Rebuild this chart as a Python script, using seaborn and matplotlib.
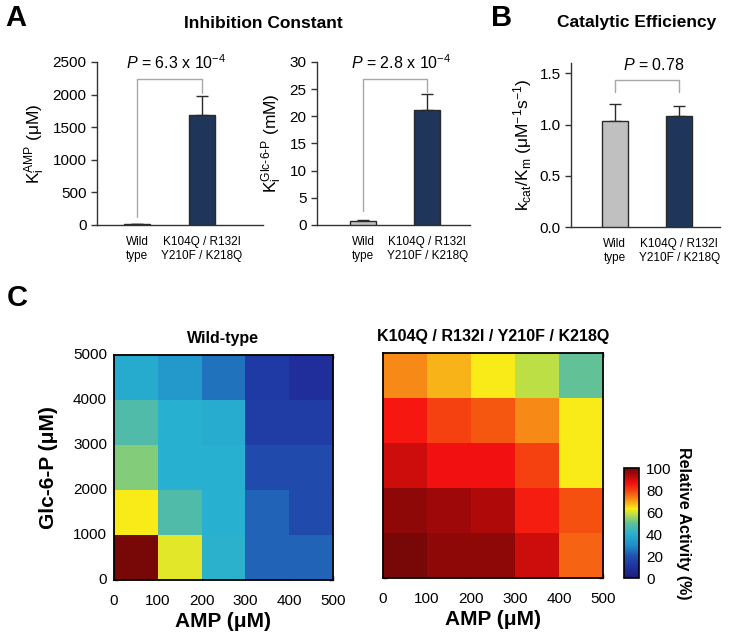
import numpy as np
import pandas as pd
import matplotlib
matplotlib.use('Agg')
import matplotlib.pyplot as plt
import seaborn as sns
from matplotlib.colors import LinearSegmentedColormap

# ---------------- data ----------------
groups = ['Wild\ntype', 'K104Q / R132I\nY210F / K218Q']
ki_amp = [10, 1690]
ki_amp_err = [5, 295]
ki_g6p = [0.8, 21.2]
ki_g6p_err = [0.15, 2.9]
kcat_km = [1.03, 1.08]
kcat_km_err = [0.17, 0.10]
p_values = ['6.3 x 10$^{\\mathregular{-4}}$', '2.8 x 10$^{\\mathregular{-4}}$', '0.78']

amp_ticks = [0, 100, 200, 300, 400, 500]
glc_ticks = [0, 1000, 2000, 3000, 4000, 5000]
# rows: Glc-6-P 0-1000 (bottom) ... 4000-5000 (top); columns: AMP 0-100 ... 400-500
wt_activity = [
    [100, 61, 41, 23, 23],
    [63, 47, 40, 23, 18],
    [53, 40, 40, 18, 18],
    [47, 40, 39, 14, 14],
    [38, 33, 25, 13, 9],
]
mut_activity = [
    [100, 97, 97, 90, 76],
    [97, 95, 93, 84, 78],
    [90, 86, 86, 80, 63],
    [85, 80, 77, 72, 63],
    [72, 68, 63, 58, 50],
]
cbar_ticks = [0, 20, 40, 60, 80, 100]

# ---------------- style ----------------
sns.set_style('ticks')
plt.rcParams['font.family'] = ['Liberation Sans', 'DejaVu Sans']
plt.rcParams['mathtext.fontset'] = 'custom'
plt.rcParams['mathtext.rm'] = 'Liberation Sans'
plt.rcParams['mathtext.it'] = 'Liberation Sans:italic'
plt.rcParams['mathtext.bf'] = 'Liberation Sans:bold'
for k in ['text.color', 'axes.labelcolor', 'xtick.color', 'ytick.color']:
    plt.rcParams[k] = 'black'

navy = '#163362'
gray = '#c0c0c0'
edge = '#2a2a2a'
brk = '#a8a8a8'

cmap = LinearSegmentedColormap.from_list('act', [
    (0.00, '#1c1c78'), (0.10, '#2030a0'), (0.20, '#2052b0'),
    (0.30, '#2090c8'), (0.40, '#28b0d0'), (0.50, '#60c098'),
    (0.57, '#b0dc50'), (0.63, '#f8ec18'), (0.70, '#f8a018'),
    (0.78, '#f55010'), (0.86, '#f51010'), (0.95, '#a00808'),
    (1.00, '#780808')])

fig = plt.figure(figsize=(7.32, 6.37), dpi=100)


def bar_panel(rect, vals, errs, ymax, yticks, ylabel, ptxt, lbot, rbot, xlim):
    ax = fig.add_axes(rect)
    df = pd.DataFrame({'group': groups, 'val': vals})
    sns.barplot(data=df, x='group', y='val', hue='group', palette=[gray, navy],
                width=0.4, edgecolor=edge, linewidth=1.0, ax=ax, legend=False,
                errorbar=None, zorder=3)
    ax.errorbar(x=[0, 1], y=vals, yerr=[[0, 0], errs], fmt='none', ecolor=edge,
                elinewidth=1.0, capsize=4, capthick=1.0, zorder=2)
    top = 0.895 * ymax
    ax.plot([0, 0, 1, 1], [lbot, top, top, rbot], color=brk, lw=1.0, clip_on=False)
    ax.text(0.6, top + 0.045 * ymax, r'$\mathit{P}$ = ' + ptxt, ha='center', va='bottom',
            fontsize=11.5)
    ax.set_ylim(0, ymax)
    ax.set_xlim(*xlim)
    ax.set_yticks(yticks)
    ax.set_xlabel('')
    ax.set_ylabel(ylabel, fontsize=12.5)
    ax.tick_params(axis='y', labelsize=11, length=4, width=1, color='#333333')
    ax.tick_params(axis='x', labelsize=8.5, length=0, pad=8)
    for s in ['top', 'right']:
        ax.spines[s].set_visible(False)
    for s in ['left', 'bottom']:
        ax.spines[s].set_linewidth(1.0)
        ax.spines[s].set_color('#333333')
    return ax


bar_panel([0.1325, 0.6468, 0.2268, 0.256], ki_amp, ki_amp_err, 2500,
          [0, 500, 1000, 1500, 2000, 2500],
          r'K$_\mathregular{i}^\mathregular{AMP}$ (μM)', p_values[0], 120, 2030,
          (-0.615, 1.94))
bar_panel([0.4331, 0.6468, 0.209, 0.256], ki_g6p, ki_g6p_err, 30,
          [0, 5, 10, 15, 20, 25, 30],
          r'K$_\mathregular{i}^\mathregular{Glc\text{-}6\text{-}P}$ (mM)', p_values[1], 2.6, 24.5,
          (-0.72, 1.67))
bar_panel([0.78, 0.6436, 0.2036, 0.2575], kcat_km, kcat_km_err, 1.6,
          [0.0, 0.5, 1.0, 1.5],
          r'k$_\mathregular{cat}$/K$_\mathregular{m}$ (μM$^\mathregular{-1}$s$^\mathregular{-1}$)',
          p_values[2], 1.32, 1.32, (-0.68, 1.63))

fig.text(263 / 732, 1 - 23 / 637, 'Inhibition Constant', ha='center', va='center',
         fontsize=12.5, fontweight='bold')
fig.text(637 / 732, 1 - 23 / 637, 'Catalytic Efficiency', ha='center', va='center',
         fontsize=12.5, fontweight='bold')
fig.text(16 / 732, 1 - 18 / 637, 'A', ha='center', va='center', fontsize=21, fontweight='bold')
fig.text(502 / 732, 1 - 18 / 637, 'B', ha='center', va='center', fontsize=21, fontweight='bold')
fig.text(17 / 732, 1 - 298 / 637, 'C', ha='center', va='center', fontsize=21, fontweight='bold')


def heat_panel(rect, data, title, ylab):
    ax = fig.add_axes(rect)
    sns.heatmap(np.array(data), ax=ax, cmap=cmap, vmin=0, vmax=100, cbar=False)
    ax.invert_yaxis()
    ax.set_xticks(range(len(amp_ticks)))
    ax.set_xticklabels([str(v) for v in amp_ticks], rotation=0)
    ax.set_yticks(range(len(glc_ticks)))
    if ylab:
        ax.set_yticklabels([str(v) for v in glc_ticks], rotation=0)
        ax.set_ylabel('Glc-6-P (μM)', fontsize=15, fontweight='bold')
        ax.yaxis.set_label_coords(-0.255, 0.5)
    else:
        ax.set_yticklabels([])
    ax.set_xlabel('AMP (μM)', fontsize=15, fontweight='bold', labelpad=3)
    ax.set_title(title, fontsize=11.5, fontweight='bold', pad=9)
    ax.tick_params(direction='in', length=3, width=1, top=True, right=True,
                   labelsize=11, color='black')
    ax.tick_params(axis='x', pad=10)
    ax.tick_params(axis='y', pad=5)
    for s in ax.spines.values():
        s.set_visible(True)
        s.set_color('black')
        s.set_linewidth(1.3)
    return ax


heat_panel([0.1557, 0.0895, 0.299, 0.353], wt_activity, 'Wild-type', True)
axm = heat_panel([0.5232, 0.0926, 0.3005, 0.353], mut_activity,
                 'K104Q / R132I / Y210F / K218Q', False)

cax = fig.add_axes([0.8525, 0.0926, 0.0205, 0.1727])
cb = fig.colorbar(axm.collections[0], cax=cax)
cb.set_ticks(cbar_ticks)
cb.ax.tick_params(labelsize=11, length=0, pad=5)
cb.outline.set_edgecolor('black')
cb.outline.set_linewidth(1.2)
cb.set_label('Relative Activity (%)', rotation=270, fontsize=11.5, fontweight='bold',
             labelpad=14)

fig.savefig('out.png', dpi=100)
